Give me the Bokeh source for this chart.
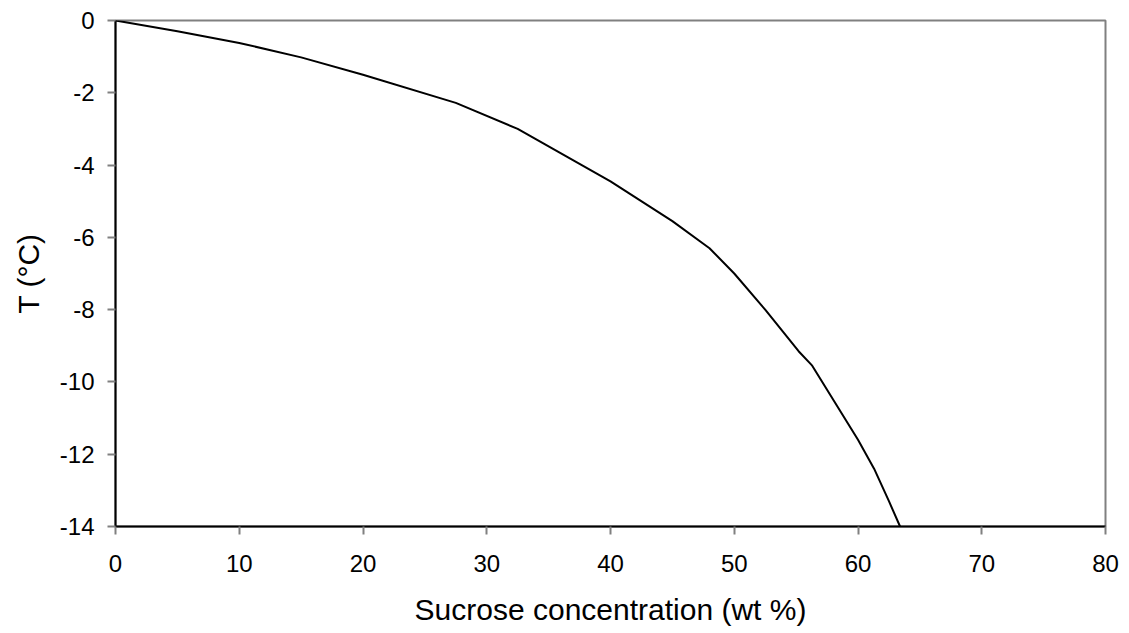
from bokeh.plotting import figure
from bokeh.embed import file_html
from bokeh.resources import INLINE
from bokeh.models import Range1d, FixedTicker, CustomJSTickFormatter

conc = [0, 5, 10, 15, 20, 27.5, 32.5, 40, 45, 48, 50, 52.5, 55.2, 56.3, 60, 61.3, 62.5, 63.4]
temp = [0, -0.3, -0.62, -1.02, -1.5, -2.28, -3.0, -4.45, -5.55, -6.3, -7.0, -8.0, -9.15, -9.55, -11.6, -12.4, -13.3, -14]
x_ticks = [0, 10, 20, 30, 40, 50, 60, 70, 80]
y_ticks = [0, -2, -4, -6, -8, -10, -12, -14]

p = figure(width=1129, height=633, output_backend="svg", toolbar_location=None,
           x_range=Range1d(0, 80), y_range=Range1d(-14, 0),
           min_border_left=115, min_border_right=24, min_border_top=20, min_border_bottom=107)
p.grid.visible = False
p.outline_line_color = "#808080"
p.outline_line_width = 2
p.background_fill_color = "white"
p.border_fill_color = "white"

p.line(conc, temp, line_color="black", line_width=2)

fmt = CustomJSTickFormatter(code="return String(tick);")
for ax in (p.xaxis[0], p.yaxis[0]):
    ax.axis_line_color = "black"
    ax.axis_line_width = 2
    ax.major_tick_line_color = "#808080"
    ax.major_tick_line_width = 2
    ax.major_tick_out = 8
    ax.major_tick_in = 0
    ax.minor_tick_line_color = None
    ax.major_label_text_font = "Liberation Sans"
    ax.major_label_text_font_size = "24px"
    ax.major_label_text_color = "black"
    ax.axis_label_text_font = "Liberation Sans"
    ax.axis_label_text_font_size = "30px"
    ax.axis_label_text_font_style = "normal"
    ax.axis_label_text_color = "black"
    ax.formatter = fmt

p.xaxis.ticker = FixedTicker(ticks=x_ticks)
p.yaxis.ticker = FixedTicker(ticks=y_ticks)
p.xaxis.axis_label = "Sucrose concentration (wt %)"
p.yaxis.axis_label = "T (°C)"
p.xaxis.major_label_standoff = 20
p.yaxis.major_label_standoff = 13
p.xaxis.axis_label_standoff = 18
p.yaxis.axis_label_standoff = 12

open("out.html", "w").write(file_html(p, INLINE))
